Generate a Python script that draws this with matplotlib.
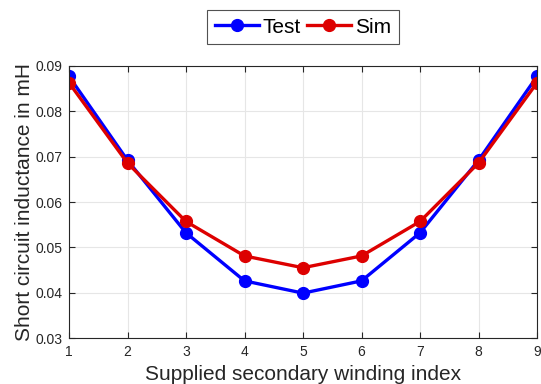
import numpy as np
import matplotlib
matplotlib.use("Agg")
import matplotlib.pyplot as plt

# datos
winding_idx = [1, 2, 3, 4, 5, 6, 7, 8, 9]
test_mH = [0.0877, 0.0692, 0.0532, 0.0426, 0.0399, 0.0426, 0.0532, 0.0692, 0.0877]
sim_mH = [0.0863, 0.0686, 0.0557, 0.0481, 0.0455, 0.0481, 0.0557, 0.0686, 0.0863]
y_ticks = [0.03, 0.04, 0.05, 0.06, 0.07, 0.08, 0.09]

plt.rcParams["font.family"] = ["Liberation Sans", "DejaVu Sans"]

fig = plt.figure(figsize=(5.41, 3.84), dpi=100)
ax = fig.add_axes([69 / 541, 1 - 338 / 384, (537 - 69) / 541, (338 - 66) / 384])

ax.plot(winding_idx, test_mH, color="#0000ff", lw=2.4, marker="o", ms=8.5, label="Test")
ax.plot(winding_idx, sim_mH, color="#dd0000", lw=2.4, marker="o", ms=8.5, label="Sim")

ax.set_xlim(1, 9)
ax.set_ylim(0.03, 0.09)
ax.set_xticks(winding_idx)
ax.set_yticks(y_ticks)
ax.set_yticklabels([f"{v:.2f}" for v in y_ticks])
ax.grid(True, color="#e6e6e6", lw=0.8)
ax.set_axisbelow(True)
ax.tick_params(direction="in", labelsize=10, colors="#262626", top=True, right=True, length=4, pad=5)
for s in ax.spines.values():
    s.set_color("#262626")
    s.set_linewidth(0.8)

ax.set_xlabel("Supplied secondary winding index", fontsize=15, color="#262626", labelpad=4)
ax.set_ylabel("Short circuit inductance in mH", fontsize=15, color="#262626", labelpad=1)

leg = ax.legend(loc="upper center", bbox_to_anchor=(0.5, 1.205), ncol=2, fontsize=15,
                frameon=True, fancybox=False, edgecolor="#262626", handlelength=2.1,
                columnspacing=0.3, handletextpad=0.2, borderpad=0.35, borderaxespad=0)
leg.get_frame().set_linewidth(0.8)

fig.savefig("out.png", dpi=100)
